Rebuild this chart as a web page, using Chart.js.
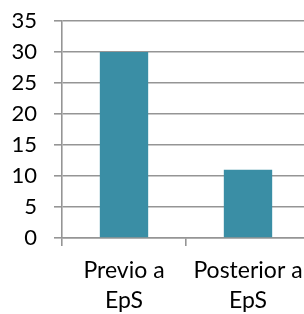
<!DOCTYPE html>
<html><head><meta charset="utf-8">
<script src="https://cdn.jsdelivr.net/npm/chart.js@4/dist/chart.umd.min.js"></script>
<style>html,body{margin:0;padding:0;overflow:hidden;background:#fff;width:304px;height:314px}canvas{display:block}</style>
</head><body>
<canvas id="c" width="310" height="314"></canvas>
<script>
const categories = [["Previo a","EpS"],["Posterior a","EpS"]];
const values = [30, 11];
const yTicks = [0,5,10,15,20,25,30,35];
const FONT = "Lato, 'DejaVu Sans', sans-serif";
new Chart(document.getElementById('c'), {
  type: 'bar',
  data: { labels: categories, datasets: [{ data: values, backgroundColor: '#3A8EA5', borderWidth: 0, categoryPercentage: 1, barPercentage: 0.39 }] },
  options: {
    responsive: false, animation: false,
    layout: { padding: { top: 21, right: 0, left: 0, bottom: 0 } },
    plugins: { legend: { display: false }, tooltip: { enabled: false } },
    scales: {
      y: {
        min: 0, max: 35,
        afterFit: s => { s.width = 62; s.paddingTop = 0; s.paddingBottom = 0; },
        afterBuildTicks: s => { s.ticks = yTicks.map(v => ({ value: v })); },
        ticks: { color: '#000', padding: 17, font: { family: FONT, size: 22 } },
        grid: { color: '#959595', lineWidth: 1.6, tickLength: 8 },
        border: { color: '#959595', width: 1.6 }
      },
      x: {
        afterFit: s => { s.height = 76; s.paddingLeft = 0; s.paddingRight = 0; },
        ticks: { color: '#000', padding: 10, font: { family: FONT, size: 23, lineHeight: 1.3 }, maxRotation: 0, autoSkip: false },
        grid: { drawOnChartArea: false, color: '#959595', lineWidth: 1.6, tickLength: 8, offset: true },
        border: { color: '#959595', width: 1.6 }
      }
    }
  }
});
</script>
</body></html>
